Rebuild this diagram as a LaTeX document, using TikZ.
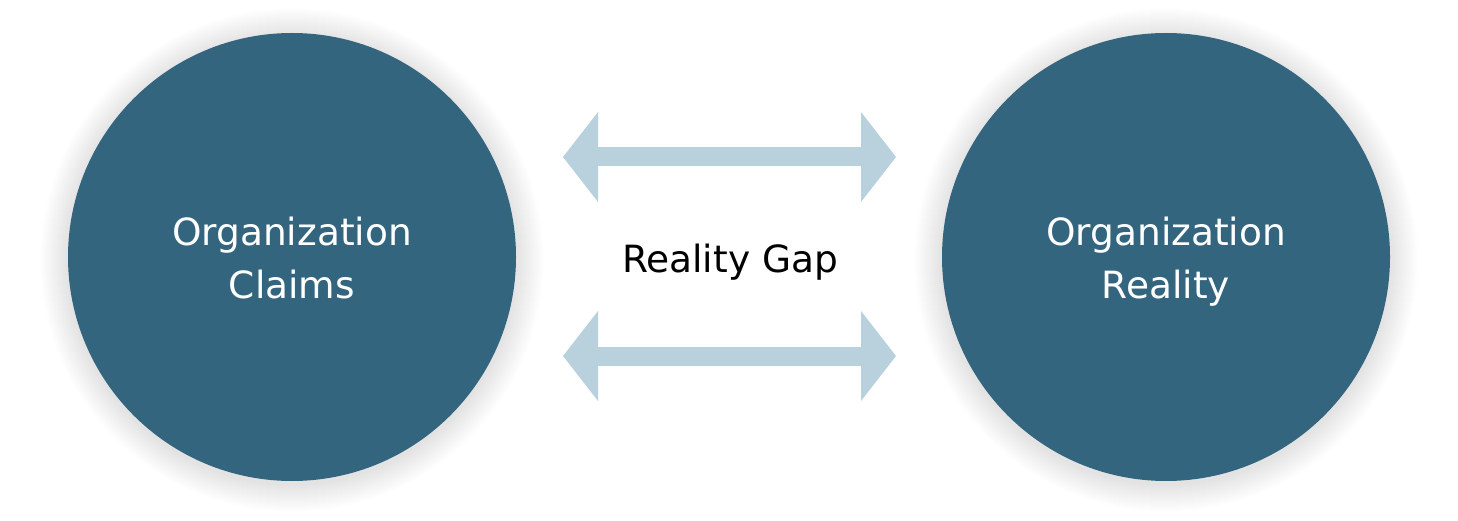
\documentclass[tikz,border=0pt]{standalone}
\usepackage{fontspec}
\setmainfont{DejaVu Sans}
\usetikzlibrary{arrows.meta}
\definecolor{circleblue}{HTML}{34657F}
\definecolor{gapblue}{HTML}{B8D1DC}
\tikzset{
	bigcircle/.style={circle, fill=circleblue, minimum size=448pt, inner sep=0pt},
	circletext/.style={text=white, align=center, font=\fontsize{37.5}{53}\selectfont},
	gaptext/.style={text=black, font=\fontsize{37.5}{53}\selectfont},
	gaparrow/.style={gapblue, line width=19pt, {Triangle[width=90pt,length=35pt,line width=0pt]}-{Triangle[width=90pt,length=35pt,line width=0pt]}},
	softshadow/.style={fill=black, opacity=0.004}
}
\begin{document}
\begin{tikzpicture}[x=1pt,y=-1pt]
		\useasboundingbox (0,0) rectangle (1458,521);

		\coordinate (cl) at (292,257);
		\coordinate (cr) at (1166,257);

		\foreach \r in {1,...,28} {
			\fill[softshadow] ([yshift=-3pt]cl) circle[radius={224pt+\r*1pt}];
			\fill[softshadow] ([yshift=-3pt]cr) circle[radius={224pt+\r*1pt}];
		}

		\node[bigcircle] (claims) at (cl) {};
		\node[bigcircle] (reality) at (cr) {};

		\node[circletext] (claimstext) at (292,258) {Organization\\Claims};
		\node[circletext] (realitytext) at (1166,262) {Organization\\Reality};

		\node[gaptext] (gap) at (730,262) {Reality Gap};

		\coordinate (ul) at (563,157);
		\coordinate (ur) at (896,157);
		\coordinate (ll) at (563,356);
		\coordinate (lr) at (896,356);

		\draw[gaparrow] (ul) -- (ur);
		\draw[gaparrow] (ll) -- (lr);
	\end{tikzpicture}
\end{document}
